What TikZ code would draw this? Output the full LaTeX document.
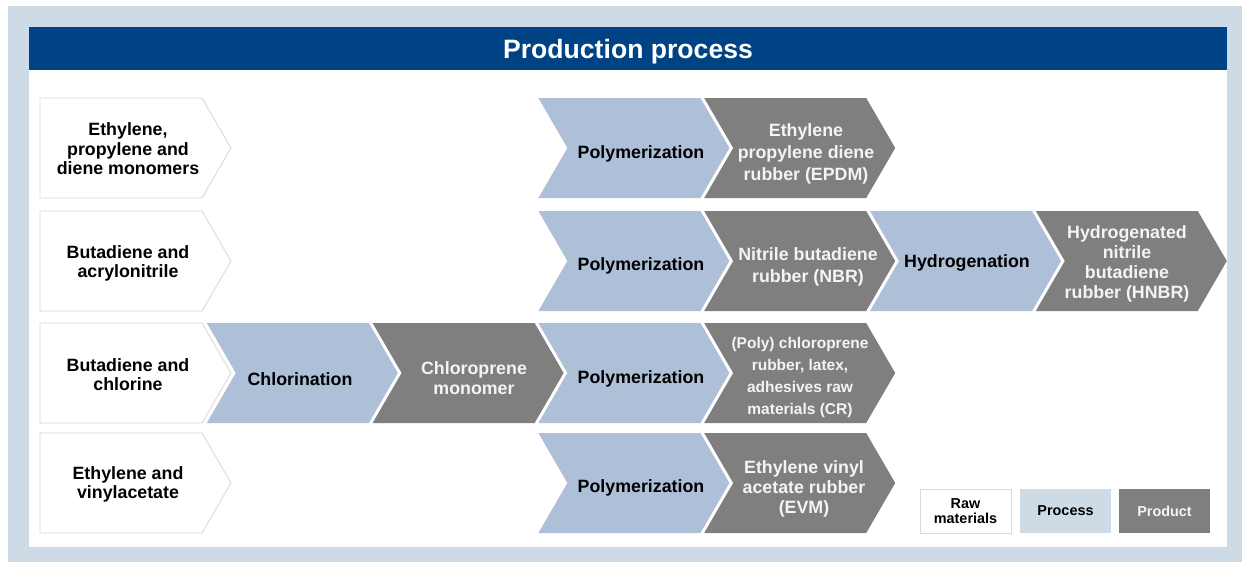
\documentclass[tikz,border=0pt]{standalone}
\usepackage{fontspec}
\setmainfont{Liberation Sans}
\definecolor{bgblue}{HTML}{CFDAE7}
\definecolor{titleblue}{HTML}{004385}
\definecolor{procblue}{HTML}{ADC0D8}
\definecolor{prodgray}{HTML}{7F7F7F}
\definecolor{rawborder}{HTML}{DADADA}
\definecolor{prodtext}{HTML}{F4F4F4}
\newcommand{\rawchev}[5]{% L, top, name, text-y, text
  \path[rawshape] (#1,#2) -- ++(162,0) -- ++(29,50) -- ++(-29,50) -- ++(-162,0) -- cycle;
  \node[txt] (#3) at (128,#4) {#5};
}
\newcommand{\chevbox}[8]{% L, top, shape style, name, text x, text y, font style, text
  \path[#3] (#1,#2) -- ++(162,0) -- ++(29,50) -- ++(-29,50) -- ++(-162,0) -- ++(29,-50) -- cycle;
  \node[txt,#3text,#7] (#4) at (#5,#6) {#8};
}
\tikzset{
  rawshape/.style={fill=white, draw=rawborder, line width=0.9pt},
  procshape/.style={fill=procblue},
  prodshape/.style={fill=prodgray},
  procshapetext/.style={text=black},
  prodshapetext/.style={text=prodtext},
  txt/.style={align=center, inner sep=0pt, font=\bfseries\fontsize{17.8}{19.5}\selectfont},
  fA/.style={font=\bfseries\fontsize{17.8}{19.5}\selectfont},
  fB/.style={font=\bfseries\fontsize{17.8}{20}\selectfont},
  fC/.style={font=\bfseries\fontsize{17.8}{22}\selectfont},
  fD/.style={font=\bfseries\fontsize{15.5}{22}\selectfont},
  legbox/.style={minimum width=91pt, minimum height=44pt, inner sep=0pt, align=center,
     font=\bfseries\fontsize{14.4}{15}\selectfont},
}
\begin{document}
\begin{tikzpicture}[x=1pt,y=-1pt]
\useasboundingbox (0,0) rectangle (1242,562);
% background
\fill[bgblue] (8,6) rectangle (1242,562);
\fill[white] (29,27) rectangle (1227,547);
\fill[titleblue] (29,27) rectangle (1227,70);
\node[text=white, font=\bfseries\fontsize{26.6}{30}\selectfont, inner sep=0pt] (title) at (628,51.5) {Production process};
% column lefts: 41 + 165.8k
% Row 1
\rawchev{40}{98}{raw1}{149}{Ethylene,\\propylene and\\diene monomers}
\chevbox{538.4}{98}{procshape}{p1}{641}{154}{fA}{Polymerization}
\chevbox{704.2}{98}{prodshape}{r1}{806}{154}{fC}{Ethylene\\propylene diene\\rubber (EPDM)}
% Row 2
\rawchev{40}{211}{raw2}{263.5}{Butadiene and\\acrylonitrile}
\chevbox{538.4}{211}{procshape}{p2}{641}{266}{fA}{Polymerization}
\chevbox{704.2}{211}{prodshape}{r2}{808}{267}{fC}{Nitrile butadiene\\rubber (NBR)}
\chevbox{870}{211}{procshape}{p2b}{967}{263}{fA}{Hydrogenation}
\chevbox{1035.8}{211}{prodshape}{r2b}{1127}{264}{fB}{Hydrogenated\\nitrile\\butadiene\\rubber (HNBR)}
% Row 3
\rawchev{40}{323}{raw3}{374.5}{Butadiene and\\chlorine}
\chevbox{206.8}{323}{procshape}{p3a}{300}{379}{fA}{Chlorination}
\chevbox{372.6}{323}{prodshape}{r3a}{474}{378}{fA}{Chloroprene\\monomer}
\chevbox{538.4}{323}{procshape}{p3}{641}{379}{fA}{Polymerization}
\chevbox{704.2}{323}{prodshape}{r3}{800}{377}{fD}{(Poly) chloroprene\\rubber, latex,\\adhesives raw\\materials (CR)}
% Row 4
\rawchev{40}{433}{raw4}{484.5}{Ethylene and\\vinylacetate}
\chevbox{538.4}{433}{procshape}{p4}{641}{488}{fA}{Polymerization}
\chevbox{704.2}{433}{prodshape}{r4}{804}{489}{fB}{Ethylene vinyl\\acetate rubber\\(EVM)}
% Legend
\node[legbox, fill=white, draw=rawborder, line width=0.9pt] (legraw) at (965.5,511) {Raw\\materials};
\node[legbox, fill=bgblue] (legproc) at (1065.5,511) {Process};
\node[legbox, fill=prodgray, text=prodtext] (legprod) at (1164.5,511) {Product};
\end{tikzpicture}
\end{document}
